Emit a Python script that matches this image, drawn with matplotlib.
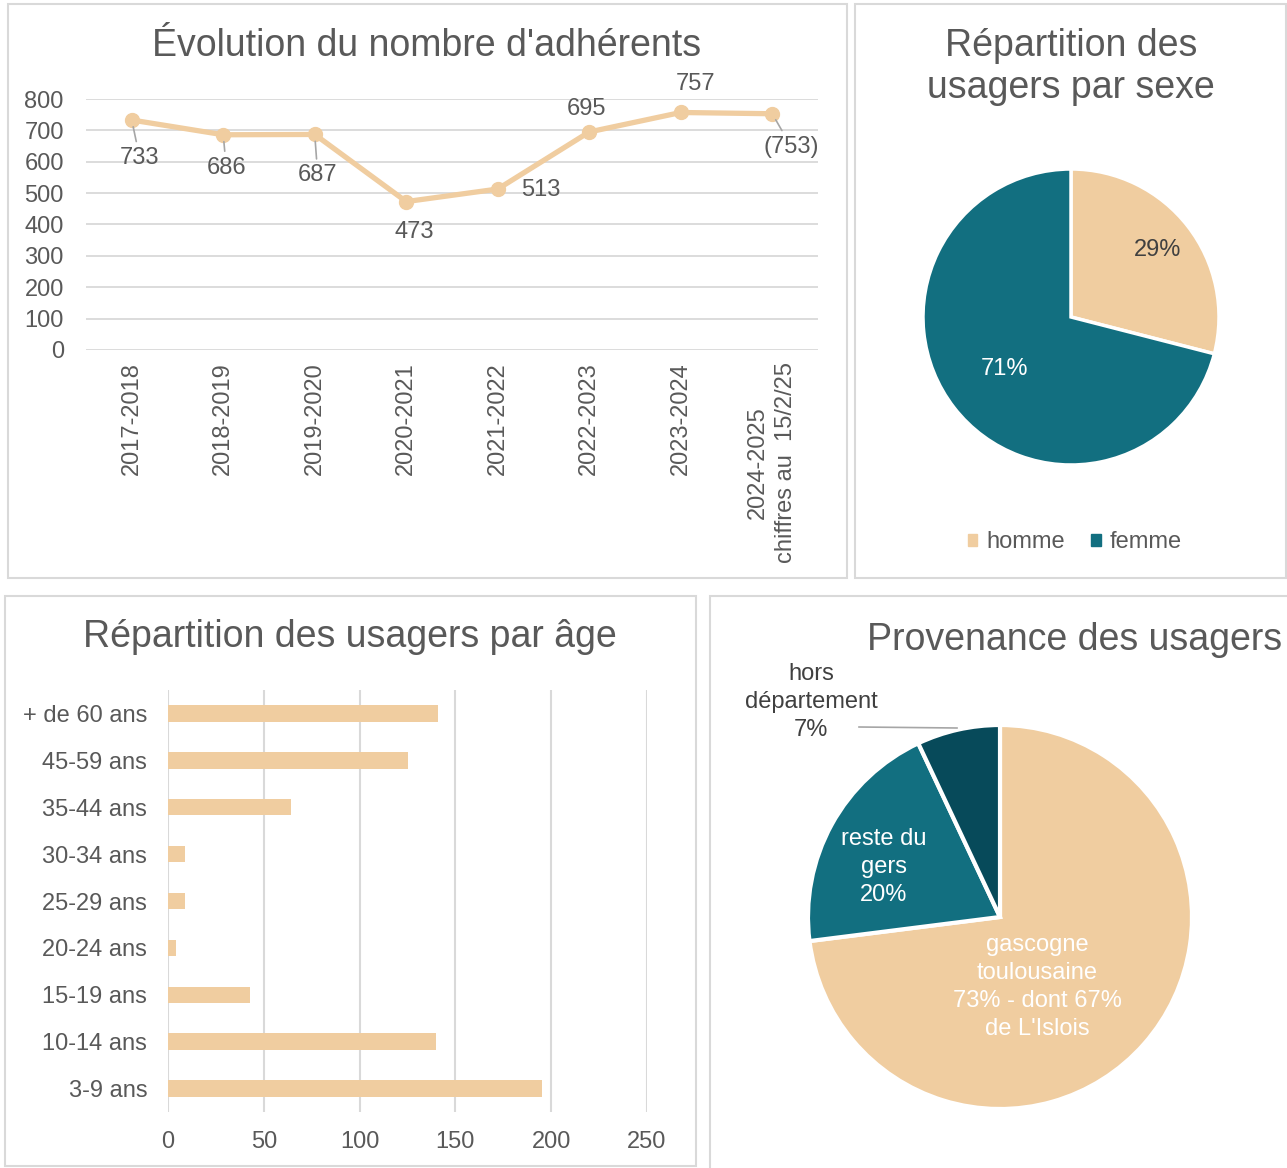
import numpy as np
import matplotlib
matplotlib.use("Agg")
from matplotlib import pyplot as plt
from matplotlib.patches import Rectangle, Patch

# DATA
saisons = ['2017-2018', '2018-2019', '2019-2020', '2020-2021', '2021-2022',
           '2022-2023', '2023-2024', '2024-2025\nchiffres au  15/2/25']
adherents = [733, 686, 687, 473, 513, 695, 757, 753]
etiquettes_adh = ['733', '686', '687', '473', '513', '695', '757', '(753)']

sexe_labels = ['homme', 'femme']
sexe_parts = [29, 71]

ages = ['3-9 ans', '10-14 ans', '15-19 ans', '20-24 ans', '25-29 ans',
        '30-34 ans', '35-44 ans', '45-59 ans', '+ de 60 ans']
ages_nb = [195, 140, 43, 4, 9, 9, 64, 125, 141]

prov_labels = ['gascogne\ntoulousaine\n73% - dont 67%\nde L\'Islois',
               'reste du\ngers\n20%', 'hors\ndépartement\n7%']
prov_parts = [73, 20, 7]

# STYLE
BEIGE = '#F0CDA0'
TEAL = '#126F80'
DARK = '#074A5A'
GRIS = '#595959'
GRILLE = '#D9D9D9'
FS = 17
FT = 27
plt.rcParams['font.family'] = ['Liberation Sans', 'DejaVu Sans']
plt.rcParams['text.color'] = GRIS

W, H = 1287, 1168
fig = plt.figure(figsize=(W / 100, H / 100), dpi=100)


def box(x0, y0, x1, y1):
    return [x0 / W, 1 - y1 / H, (x1 - x0) / W, (y1 - y0) / H]


def ftext(x, y, s, **kw):
    fig.text(x / W, 1 - y / H, s, **kw)


# panel borders
for (x0, y0, x1, y1) in [(8, 4, 847, 578), (855, 4, 1286, 578),
                         (5, 596, 696, 1166), (710, 596, 1300, 1185)]:
    fig.add_artist(Rectangle((x0 / W, 1 - y1 / H), (x1 - x0) / W, (y1 - y0) / H,
                             transform=fig.transFigure, fill=False,
                             edgecolor=GRILLE, linewidth=1.5))

# EVOLUTION DU NOMBRE D'ADHERENTS
ax1 = fig.add_axes(box(86, 99, 818, 350))
x = np.arange(len(saisons))
ax1.plot(x, adherents, color=BEIGE, linewidth=3.8, marker='o', markersize=10, zorder=3)
ax1.set_xlim(-0.5, 7.5)
ax1.set_ylim(0, 800)
ax1.set_yticks(range(0, 801, 100))
ax1.set_xticks(x)
ax1.set_xticklabels(saisons, rotation=90, ha='center', va='top', multialignment='center',
                    linespacing=1.35)
ax1.tick_params(axis='both', length=0, labelsize=FS, labelcolor=GRIS)
ax1.tick_params(axis='y', pad=16)
ax1.tick_params(axis='x', pad=9)
ax1.grid(axis='y', color=GRILLE, linewidth=1.3)
ax1.set_axisbelow(True)
for s in ax1.spines.values():
    s.set_visible(False)

offsets = [(8, -38), (3, -33), (3, -41), (8, -30), (43, -1), (-3, 23), (15, 28), (19, -33)]
leader = [True, True, True, False, False, False, False, True]
for i in range(len(adherents)):
    kw = {}
    if leader[i]:
        kw['arrowprops'] = dict(arrowstyle='-', color='#A6A6A6', lw=1.2, shrinkA=2, shrinkB=5)
    ax1.annotate(etiquettes_adh[i], (x[i], adherents[i]), xytext=offsets[i],
                 textcoords='offset pixels', ha='center', va='center',
                 fontsize=FS, color=GRIS, **kw)
ftext(427, 46, "Évolution du nombre d'adhérents", ha='center', va='center', fontsize=FT)

# REPARTITION PAR SEXE
R = 148
ax2 = fig.add_axes(box(1071 - 1.25 * R, 317 - 1.25 * R, 1071 + 1.25 * R, 317 + 1.25 * R))
wedges, _ = ax2.pie(sexe_parts, colors=[BEIGE, TEAL], startangle=90, counterclock=False,
                    wedgeprops=dict(edgecolor='white', linewidth=2.5))
dist = [0.74, 0.57]
cols = ['#404040', 'white']
for w, d, c, p in zip(wedges, dist, cols, sexe_parts):
    a = np.deg2rad((w.theta1 + w.theta2) / 2)
    ax2.text(d * np.cos(a), d * np.sin(a), f'{p}%', ha='center', va='center',
             fontsize=FS, color=c)
ftext(1071, 67, 'Répartition des\nusagers par sexe', ha='center', va='center',
      fontsize=FT, linespacing=1.25)
fig.legend(handles=[Patch(color=BEIGE, label=sexe_labels[0]),
                    Patch(color=TEAL, label=sexe_labels[1])],
           loc='center', bbox_to_anchor=(1075 / W, 1 - 542 / H), ncol=2, frameon=False,
           fontsize=FS, handlelength=0.4, handleheight=0.4, handletextpad=0.4,
           columnspacing=1.1, labelcolor=GRIS)

# REPARTITION PAR AGE
ax3 = fig.add_axes(box(168, 690, 647, 1112))
y = np.arange(len(ages))
ax3.barh(y, ages_nb, height=0.35, color=BEIGE, zorder=3)
ax3.set_ylim(-0.5, 8.5)
ax3.set_xlim(0, 250)
ax3.set_xticks(range(0, 251, 50))
ax3.set_yticks(y)
ax3.set_yticklabels(ages)
ax3.tick_params(axis='both', length=0, labelsize=FS, labelcolor=GRIS)
ax3.tick_params(axis='y', pad=15)
ax3.tick_params(axis='x', pad=14)
ax3.grid(axis='x', color=GRILLE, linewidth=1.5)
ax3.set_axisbelow(True)
for s in ax3.spines.values():
    s.set_visible(False)
ftext(350, 637, 'Répartition des usagers par âge', ha='center', va='center', fontsize=FT)

# PROVENANCE DES USAGERS
R2 = 192
ax4 = fig.add_axes(box(1000 - 1.25 * R2, 917 - 1.25 * R2, 1000 + 1.25 * R2, 917 + 1.25 * R2))
ax4.pie(prov_parts, colors=[BEIGE, TEAL, DARK], startangle=90, counterclock=False,
        wedgeprops=dict(edgecolor='white', linewidth=3))
ftext(1037, 987, prov_labels[0], ha='center', va='center', fontsize=FS,
      color='white', linespacing=1.35)
ftext(884, 867, prov_labels[1], ha='center', va='center', fontsize=FS,
      color='white', linespacing=1.35)
ftext(811, 702, prov_labels[2], ha='center', va='center', fontsize=FS,
      color='#404040', linespacing=1.35)
fig.add_artist(plt.Line2D([859 / W, 957 / W], [1 - 727 / H, 1 - 728 / H],
                          transform=fig.transFigure, color='#A6A6A6', linewidth=1.2))
ftext(1075, 640, 'Provenance des usagers', ha='center', va='center', fontsize=FT)

fig.savefig('out.png', dpi=100)
